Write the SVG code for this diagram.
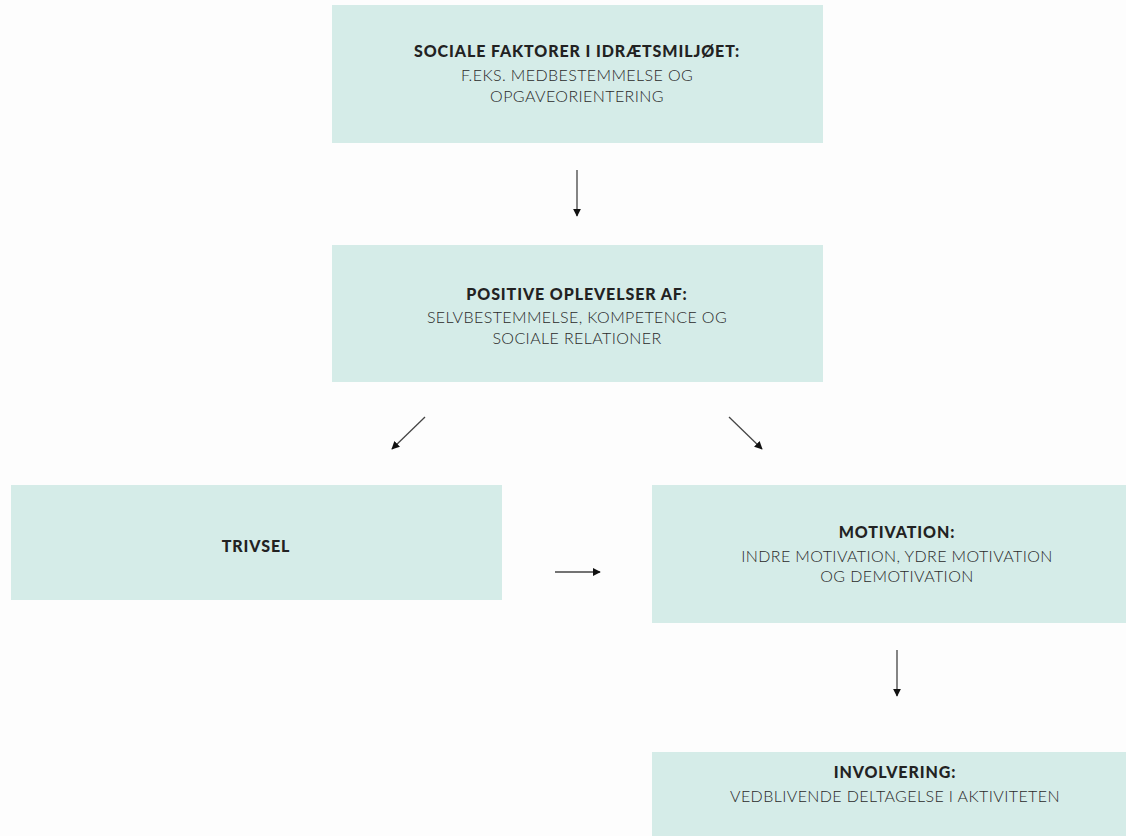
<svg xmlns="http://www.w3.org/2000/svg" width="1126" height="836" viewBox="0 0 1126 836">
<style>
.box{fill:#d5ece8}
.t{font-family:Lato,"Liberation Sans",sans-serif;font-size:16px;fill:#222;text-anchor:middle}
.b{font-weight:900;letter-spacing:0.9px}
.r{font-weight:300;letter-spacing:0.4px;fill:#2a2a2a}
.c{stroke:#444;stroke-width:1.3;fill:none;marker-end:url(#ah)}
</style>
<defs>
<marker id="ah" viewBox="0 0 10 10" refX="9" refY="5" markerWidth="8" markerHeight="8" markerUnits="userSpaceOnUse" orient="auto">
<path d="M0,0 L10,5 L0,10 z" fill="#111"/>
</marker>
</defs>
<rect width="1126" height="836" fill="#fdfdfd"/>
<g id="n1">
<rect class="box" x="332" y="5" width="491" height="138"/>
<text class="t b" x="577" y="57">SOCIALE FAKTORER I IDRÆTSMILJØET:</text>
<text class="t r" x="577" y="81">F.EKS. MEDBESTEMMELSE OG</text>
<text class="t r" x="577" y="102">OPGAVEORIENTERING</text>
</g>
<g id="n2">
<rect class="box" x="332" y="245" width="491" height="137"/>
<text class="t b" x="577" y="300">POSITIVE OPLEVELSER AF:</text>
<text class="t r" x="577" y="323">SELVBESTEMMELSE, KOMPETENCE OG</text>
<text class="t r" x="577" y="344">SOCIALE RELATIONER</text>
</g>
<g id="n3">
<rect class="box" x="11" y="485" width="491" height="115"/>
<text class="t b" x="256" y="552">TRIVSEL</text>
</g>
<g id="n4">
<rect class="box" x="652" y="485" width="474" height="138"/>
<text class="t b" x="897" y="538">MOTIVATION:</text>
<text class="t r" x="897" y="562">INDRE MOTIVATION, YDRE MOTIVATION</text>
<text class="t r" x="897" y="582">OG DEMOTIVATION</text>
</g>
<g id="n5">
<rect class="box" x="652" y="752" width="474" height="84"/>
<text class="t b" x="895" y="778">INVOLVERING:</text>
<text class="t r" x="895" y="802">VEDBLIVENDE DELTAGELSE I AKTIVITETEN</text>
</g>
<g id="connectors">
<line class="c" x1="577" y1="170" x2="577" y2="216"/>
<line class="c" x1="425" y1="417" x2="392" y2="449"/>
<line class="c" x1="729" y1="417" x2="762" y2="449"/>
<line class="c" x1="555" y1="572" x2="600" y2="572"/>
<line class="c" x1="897" y1="650" x2="897" y2="696"/>
</g>
</svg>
